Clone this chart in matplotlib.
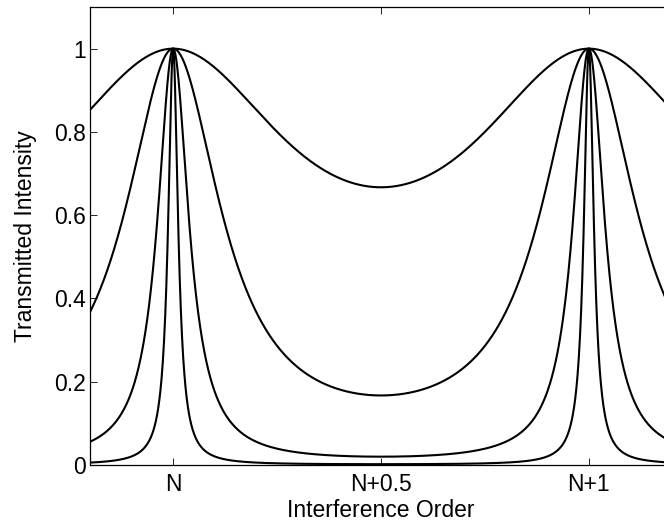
import numpy as np
import matplotlib
matplotlib.use('Agg')
import matplotlib.pyplot as plt

plt.rcParams['font.family'] = ['Liberation Sans', 'DejaVu Sans']

# transmission minima of the four curves (at N+0.5)
t_min = [0.667, 0.167, 0.02, 0.002]
x_ticks = [0, 0.5, 1]
x_labels = ['N', 'N+0.5', 'N+1']
y_ticks = [0, 0.2, 0.4, 0.6, 0.8, 1]
y_labels = ['0', '0.2', '0.4', '0.6', '0.8', '1']

fig = plt.figure(figsize=(6.64, 5.26), dpi=100)
# right edge of the axes runs past the picture, as in the original crop
ax = fig.add_axes([90 / 664, 61 / 526, 582 / 664, 458 / 526])

x = np.linspace(-0.2, 1.2, 2000)
for tm in t_min:
    F = 1.0 / tm - 1.0
    T = 1.0 / (1.0 + F * np.sin(np.pi * x) ** 2)
    ax.plot(x, T, color='black', lw=1.5)

fs = 16.5
ax.set_xlim(-0.2, 1.2)
ax.set_ylim(0, 1.1)
ax.set_xticks(x_ticks)
ax.set_xticklabels(x_labels)
ax.set_yticks(y_ticks)
ax.set_yticklabels(y_labels)
ax.tick_params(direction='in', top=True, right=True, labelsize=fs, length=5, width=0.6)
ax.tick_params(axis='x', pad=6)
ax.tick_params(axis='y', pad=3)
for s in ax.spines.values():
    s.set_linewidth(0.9)
ax.set_xlabel('Interference Order', fontsize=fs, labelpad=2)
ax.set_ylabel('Transmitted Intensity', fontsize=fs, labelpad=12)

fig.savefig('out.png', dpi=100)
